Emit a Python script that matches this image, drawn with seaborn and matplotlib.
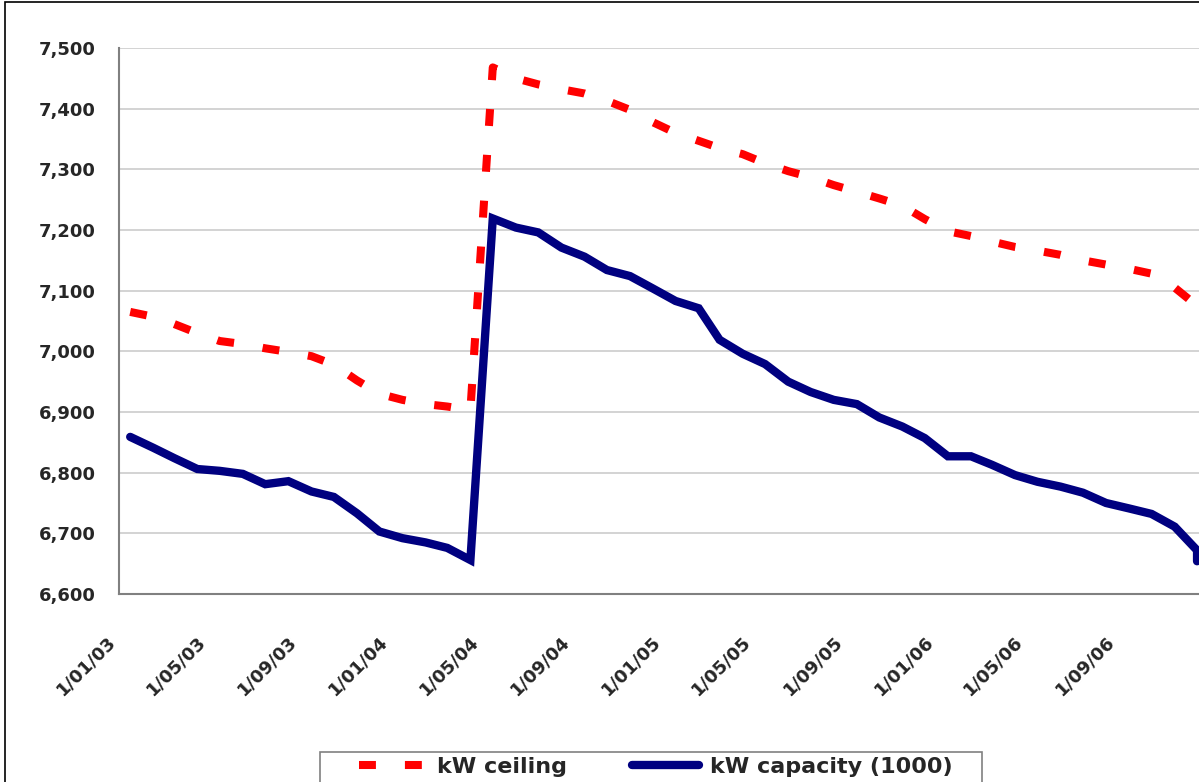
import pandas as pd
import numpy as np
import matplotlib
matplotlib.use('Agg')
import matplotlib.pyplot as plt
import matplotlib.dates as mdates
import matplotlib.transforms as mtransforms
from matplotlib.patches import Rectangle
import seaborn as sns

# monthly readings, Jan 2003 .. Dec 2006 (last month has a second, end-of-month reading)
months = list(pd.date_range('2003-01-01', periods=48, freq='MS')) + [pd.Timestamp('2006-12-01')]

kw_ceiling = [7065, 7057, 7045, 7030, 7017, 7012, 7005, 6999, 6992, 6978, 6952, 6930,
              6920, 6913, 6909, 6903, 7468, 7450, 7440, 7432, 7425, 7413, 7398, 7378,
              7360, 7347, 7335, 7325, 7310, 7297, 7287, 7274, 7263, 7252, 7240, 7218,
              7198, 7190, 7181, 7172, 7166, 7159, 7150, 7143, 7136, 7128, 7105, 7075,
              7075]

kw_capacity = [6859, 6841, 6824, 6806, 6803, 6798, 6781, 6786, 6769, 6760, 6733, 6703,
               6692, 6685, 6676, 6656, 7219, 7204, 7196, 7171, 7156, 7134, 7124, 7104,
               7083, 7071, 7019, 6996, 6979, 6950, 6933, 6920, 6913, 6891, 6876, 6857,
               6827, 6827, 6813, 6796, 6785, 6777, 6767, 6750, 6741, 6732, 6711, 6672,
               6654]

tick_dates = ['2003-01-01', '2003-05-01', '2003-09-01', '2004-01-01', '2004-05-01',
              '2004-09-01', '2005-01-01', '2005-05-01', '2005-09-01', '2006-01-01',
              '2006-05-01', '2006-09-01']
tick_labels = ['1/01/03', '1/05/03', '1/09/03', '1/01/04', '1/05/04', '1/09/04',
               '1/01/05', '1/05/05', '1/09/05', '1/01/06', '1/05/06', '1/09/06']

df = pd.DataFrame({'month': months, 'ceiling': kw_ceiling, 'capacity': kw_capacity})
# points sit in the middle of their month slot
df['x'] = df['month'] + pd.Timedelta(days=15)

sns.set_style('white')
plt.rcParams['font.family'] = ['DejaVu Sans']
plt.rcParams['font.weight'] = 'bold'

fig = plt.figure(figsize=(11.99, 7.82), dpi=100)
ax = fig.add_axes([119 / 1199, 1 - 594 / 782, 1090 / 1199, 546 / 782])

sns.lineplot(data=df, x='x', y='ceiling', ax=ax, color='#FF0000', lw=5.8,
             estimator=None, sort=False, label='kW ceiling', dashes=False)
ax.lines[-1].set_dashes((2.1, 3.6))
ax.lines[-1].set_dash_capstyle('butt')
sns.lineplot(data=df, x='x', y='capacity', ax=ax, color='#000080', lw=6,
             estimator=None, sort=False, label='kW capacity (1000)')
ax.lines[-1].set_solid_capstyle('round')
ax.lines[-1].set_solid_joinstyle('miter')

ax.set_ylim(6600, 7500)
ax.set_yticks(np.arange(6600, 7501, 100))
ax.yaxis.set_major_formatter(matplotlib.ticker.FuncFormatter(lambda v, p: f'{int(v):,}'))
ax.set_xlim(mdates.date2num(pd.Timestamp('2003-01-01')), mdates.date2num(pd.Timestamp('2007-01-01')))
ax.set_xticks(mdates.date2num(pd.to_datetime(tick_dates)))
ax.set_xticklabels(tick_labels)

ax.grid(axis='y', color='#cccccc', lw=1.2)
ax.set_axisbelow(True)
for s in ['top', 'right']:
    ax.spines[s].set_visible(False)
for s in ['left', 'bottom']:
    ax.spines[s].set_color('#808080')
    ax.spines[s].set_linewidth(1.5)

ax.tick_params(axis='both', direction='out', length=6, width=1, color='#808080',
               labelsize=13)
ax.tick_params(axis='y', pad=11)
ax.tick_params(axis='x', pad=26)
shift = mtransforms.ScaledTranslation(-6 / 100, 0, fig.dpi_scale_trans)
for lab in ax.get_yticklabels():
    lab.set_fontweight('bold')
for lab in ax.get_xticklabels():
    lab.set_fontweight('bold')
    lab.set_rotation(45)
    lab.set_ha('right')
    lab.set_va('center')
    lab.set_rotation_mode('anchor')
    lab.set_transform(lab.get_transform() + shift)
ax.set_xlabel('')
ax.set_ylabel('')

ax.legend_.remove()
handles, labels = ax.get_legend_handles_labels()
leg = fig.legend(handles, labels, ncol=2, loc='upper left',
                 bbox_to_anchor=(359 / 1199, 1 - 757 / 782), frameon=False,
                 prop={'weight': 'bold', 'size': 16}, handlelength=3.0,
                 handletextpad=0.5, columnspacing=2.95, borderpad=0,
                 borderaxespad=0)

# legend box and outer chart border
fig.patches.append(Rectangle((320 / 1199, -0.1), (982 - 320) / 1199, 0.1 + 1 - 752 / 782,
                             transform=fig.transFigure, fill=False,
                             edgecolor='#808080', lw=1.2))
fig.patches.append(Rectangle((4.5 / 1199, -0.1), 1.2, 1.1 - 1.5 / 782,
                             transform=fig.transFigure, fill=False,
                             edgecolor='black', lw=1.2))

fig.savefig('out.png', dpi=100)
